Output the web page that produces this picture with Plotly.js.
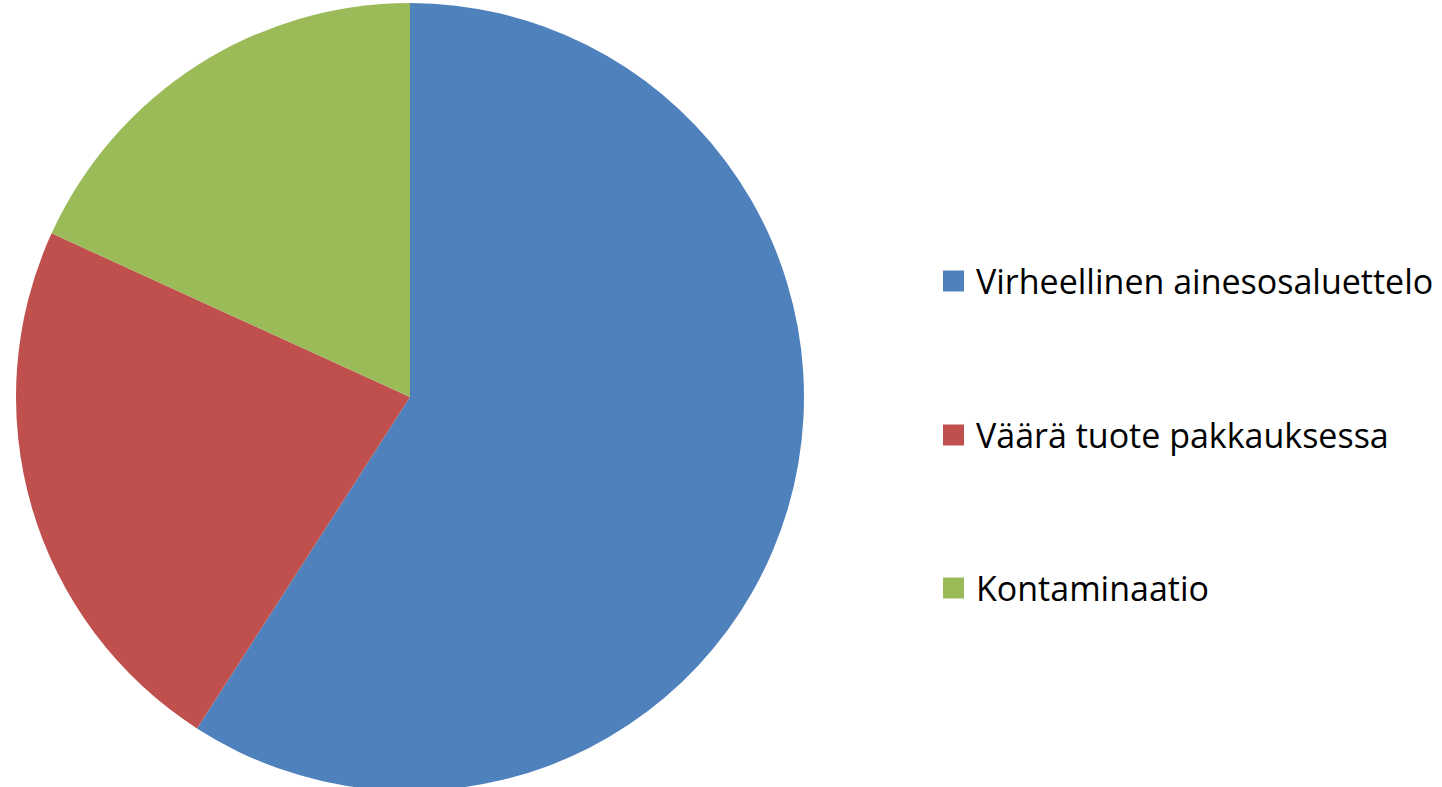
<!DOCTYPE html>
<html>
<head>
<meta charset="utf-8">
<script src="https://cdn.plot.ly/plotly-3.0.1.min.js"></script>
<style>html,body{margin:0;padding:0;background:#fff;overflow:hidden;}#chart{width:1442px;height:795px;}</style>
</head>
<body>
<div id="chart"></div>
<script>
var categories = ["Virheellinen ainesosaluettelo", "Väärä tuote pakkauksessa", "Kontaminaatio"];
var values = [13, 5, 4];
var colors = ["#4F81BD", "#C0504D", "#9BBB59"];

var W = 1442, H = 795;
var legendY = [281, 435, 588];
var sq = 21, sqX = 943, textX = 974;

var shapes = [], annotations = [];
categories.forEach(function (c, i) {
  shapes.push({
    type: "rect", xref: "paper", yref: "paper",
    x0: sqX / W, x1: (sqX + sq) / W,
    y0: 1 - (legendY[i] + sq / 2) / H, y1: 1 - (legendY[i] - sq / 2) / H,
    fillcolor: colors[i], line: {width: 0}
  });
  annotations.push({
    xref: "paper", yref: "paper", x: textX / W, y: 1 - legendY[i] / H,
    xanchor: "left", yanchor: "middle", showarrow: false, text: c,
    font: {family: "'Open Sans', sans-serif", size: 34, color: "#000"}
  });
});

var data = [{
  type: "pie",
  labels: categories,
  values: values,
  sort: false,
  direction: "clockwise",
  rotation: 0,
  marker: {colors: colors, line: {width: 0}},
  textinfo: "none",
  hoverinfo: "label+value+percent",
  showlegend: false,
  domain: {x: [16 / W, 804 / W], y: [(H - 791) / H, (H - 3) / H]}
}];

var layout = {
  width: W, height: H,
  margin: {l: 0, r: 0, t: 0, b: 0},
  paper_bgcolor: "#fff",
  showlegend: false,
  shapes: shapes,
  annotations: annotations
};

Plotly.newPlot("chart", data, layout, {displayModeBar: false});
</script>
</body>
</html>
